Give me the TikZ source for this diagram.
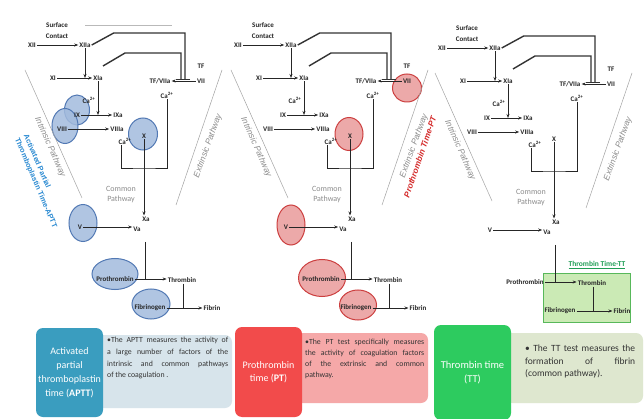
\documentclass[tikz,border=0pt]{standalone}
\usepackage{fontspec}
\setmainfont{Carlito}
\newfontfamily\labsans{Liberation Sans}
\usetikzlibrary{arrows.meta,shapes.geometric,calc}

\definecolor{bluefill}{HTML}{A3BBDD}
\definecolor{blueedge}{HTML}{5279B4}
\definecolor{redfill}{HTML}{E99A9A}
\definecolor{rededge}{HTML}{CC3F3F}
\definecolor{pathgray}{HTML}{8C8C8C}
\definecolor{apttblue}{HTML}{2A8AD2}
\definecolor{ptred}{HTML}{D42A2A}
\definecolor{ttgreen}{HTML}{1F9E55}
\definecolor{boxteal}{HTML}{3A9DBF}
\definecolor{descblue}{HTML}{D7E4EB}
\definecolor{boxred}{HTML}{F24B4B}
\definecolor{descred}{HTML}{F5A8A8}
\definecolor{boxgreen}{HTML}{2DCB5F}
\definecolor{descgreen}{HTML}{DEE7CF}
\definecolor{ttfill}{HTML}{CBEAB5}
\definecolor{ttedge}{HTML}{58B85A}

\tikzset{
  lbl/.style={font=\bfseries\fontsize{7}{8}\selectfont, inner sep=1pt, text=black!85},
  arr/.style={-{Stealth[length=4pt,width=3pt]}, line width=0.9pt, black!85},
  plainline/.style={line width=0.9pt, black!85},
  dblline/.style={line width=1.4pt, black!80, -{Bar[width=10pt,line width=1.4pt]}},
  diag/.style={draw=pathgray!80, line width=0.5pt},
  pathtext/.style={text=pathgray, font=\labsans\itshape\fontsize{8.5}{9}\selectfont, inner sep=0pt},
  cptext/.style={text=pathgray, font=\fontsize{8}{10}\selectfont, align=center, inner sep=0pt},
  bluecirc/.style={ellipse, draw=blueedge, fill=bluefill, fill opacity=0.85, line width=1pt, inner sep=0pt},
  redcirc/.style={ellipse, draw=rededge, fill=redfill, fill opacity=0.85, line width=1pt, inner sep=0pt},
  titlebox/.style={rounded corners=7pt, text=white, align=center, inner sep=0pt},
  descbox/.style={rounded corners=7pt, inner sep=0pt},
  desctext/.style={anchor=north west, align=justify, inner sep=0pt, text=black!80},
}

\newcommand\coagpanel[1]{%
  \draw[diag] (25,70) -- (82,198);
  \draw[diag] (222,70) -- (176,205);
  \node[pathtext, rotate=-66] (#1intr) at (50,147) {Intrinsic Pathway};
  \node[pathtext, rotate=70] (#1extr) at (208,146) {Extrinsic Pathway};
  % top
  \node[lbl] (#1xii) at (32,45) {XII};
  \node[lbl, align=center, font=\bfseries\fontsize{7}{11}\selectfont] (#1sc) at (57,31) {Surface\\Contact};
  \node[lbl] (#1xiia) at (85,45) {XIIa};
  \draw[arr] (#1xii) -- (#1xiia);
  \node[lbl] (#1xi) at (53,78) {XI};
  \node[lbl] (#1xia) at (98,78) {XIa};
  \draw[arr] (#1xi) -- (#1xia);
  \coordinate (#1j1) at (85,78);
  \draw[arr] (#1xiia.south) -- (#1j1);
  \node[lbl] (#1tfviia) at (160,81) {TF/VIIa};
  \node[lbl] (#1vii) at (201,81) {VII};
  \node[lbl] (#1tf) at (201,66) {TF};
  \draw[arr] (#1vii) -- (#1tfviia);
  \node[lbl] (#1ca3) at (167,95) {Ca\textsuperscript{2+}};
  \coordinate (#1t1) at (185,80);
  \coordinate (#1t2) at (181,80);
  \coordinate (#1s2) at (103,66);
  \draw[dblline] (#1xiia.east) -- ++(22,-12) -| (#1t1);
  \draw[dblline] (#1s2) -- ++(22,-13) -| (#1t2);
  % intrinsic
  \node[lbl] (#1ca1) at (89,100) {Ca\textsuperscript{2+}};
  \coordinate (#1j2) at (98,115);
  \draw[arr] (#1xia.south) -- (#1j2);
  \node[lbl] (#1ix) at (77,115) {IX};
  \node[lbl] (#1ixa) at (118,115) {IXa};
  \draw[arr] (#1ix) -- (#1ixa);
  \node[lbl] (#1viii) at (62,129) {VIII};
  \node[lbl] (#1viiia) at (117,129) {VIIIa};
  \draw[arr] (#1viii) -- (#1viiia);
  \node[lbl] (#1ca2) at (125,141) {Ca\textsuperscript{2+}};
  \node[lbl] (#1x) at (144,136) {X};
  \coordinate (#1box) at (144,168);
  \draw[plainline] ([xshift=-4pt]#1ca2.south) |- (#1box) -| (#1ca3.south);
  \node[lbl] (#1xa) at (146,219) {Xa};
  \draw[arr] (#1x.south) -- (#1x.south |- #1xa.north);
  % common
  \node[cptext] (#1cp) at (121,195) {Common\\Pathway};
  \node[lbl] (#1v) at (80,227) {V};
  \node[lbl] (#1va) at (137,229) {Va};
  \draw[arr] (#1v.east) -- (#1v.east -| #1va.west);
  \coordinate (#1c1) at (145,242);
  \coordinate (#1j3) at (145,279);
  \draw[plainline] (#1c1) -- (#1j3);
  \node[lbl] (#1pro) at (115,279) {Prothrombin};
  \node[lbl] (#1thr) at (182,280) {Thrombin};
  \draw[arr] (#1pro.east) -- (#1pro.east -| #1thr.west);
  \coordinate (#1j4) at (183,308);
  \draw[plainline] (#1thr.south -| #1j4) -- (#1j4);
  \node[lbl] (#1fib) at (150,308) {Fibrinogen};
  \node[lbl] (#1fin) at (212,308) {Fibrin};
  \draw[arr] (#1fib) -- (#1fin);
}

\begin{document}
\begin{tikzpicture}[x=1pt,y=-1pt]
\useasboundingbox (0,0) rectangle (644,419);
\fill[white] (0,0) rectangle (644,419);

% ---------- panel 1 (APTT) ----------
\draw[gray!55, line width=0.8pt] (85,25) -- (172,25);
\node[bluecirc, minimum width=25pt, minimum height=30pt] (aix) at (77,110) {};
\node[bluecirc, minimum width=26pt, minimum height=35pt] (aviii) at (65,126) {};
\node[bluecirc, minimum width=29pt, minimum height=32pt] (ax) at (143,134) {};
\node[bluecirc, minimum width=28pt, minimum height=37pt] (av) at (83,223) {};
\node[bluecirc, minimum width=46pt, minimum height=31pt] (apro) at (115,274) {};
\node[bluecirc, minimum width=38pt, minimum height=30pt] (afib) at (151,304) {};
\begin{scope}
  \coagpanel{a}
\end{scope}
\node[font=\labsans\bfseries\fontsize{7.4}{9.5}\selectfont, text=apttblue, rotate=-67, align=left, inner sep=0pt] (apttlbl) at (40,181) {Activated Partial\\Thromboplastin Time-APTT};

% ---------- panel 2 (PT) ----------
\node[redcirc, minimum width=29pt, minimum height=28pt] (bvii) at (407,88) {};
\node[redcirc, minimum width=28pt, minimum height=33pt] (bx) at (349,134) {};
\node[redcirc, minimum width=28pt, minimum height=40pt] (bv) at (291,225) {};
\node[redcirc, minimum width=47pt, minimum height=37pt] (bpro) at (322,278) {};
\node[redcirc, minimum width=37pt, minimum height=30pt] (bfib) at (358,305) {};
\begin{scope}[xshift=206pt]
  \coagpanel{b}
\end{scope}
\node[font=\labsans\bfseries\itshape\fontsize{8.3}{9.5}\selectfont, text=ptred, rotate=71, inner sep=0pt] (ptlbl) at (420,157) {Prothrombin Time-PT};

% ---------- panel 3 (TT) ----------
\node[draw=ttedge, fill=ttfill, line width=1pt, minimum width=87pt, minimum height=49pt, inner sep=0pt] (ttbox) at (586.5,297.5) {};
\node[font=\bfseries\fontsize{7.5}{9}\selectfont, text=ttgreen, inner sep=1pt] (ttlbl) at (597,265) {\underline{Thrombin Time-TT}};
\begin{scope}[xshift=410pt, yshift=-3pt]
  \coagpanel{c}
\end{scope}

% ---------- bottom boxes ----------
\node[descbox, fill=descblue, minimum width=137pt, minimum height=73pt] (d1) at (163.5,371.5) {};
\node[titlebox, fill=boxteal, minimum width=67pt, minimum height=89pt, font=\fontsize{10}{14}\selectfont] (t1) at (69.5,372.5) {Activated\\partial\\thromboplastin\\time (\textbf{APTT})};
\node[desctext, text width=121pt, font=\fontsize{7.8}{11.7}\selectfont] (d1t) at (107,337) {\textbullet The APTT measures the activity of\linebreak a large number of factors of the\linebreak intrinsic and common pathways\linebreak of the coagulation .};

\node[descbox, fill=descred, minimum width=133pt, minimum height=70pt] (d2) at (361.5,368) {};
\node[titlebox, fill=boxred, minimum width=67pt, minimum height=90pt, font=\fontsize{10}{13}\selectfont] (t2) at (268.5,372) {Prothrombin\\time (\textbf{PT})};
\node[desctext, text width=119pt, font=\fontsize{7.8}{11}\selectfont] (d2t) at (305,339) {\textbullet The PT test specifically measures\linebreak the activity of coagulation factors\linebreak of the extrinsic and common\linebreak pathway.};

\node[descbox, fill=descgreen, minimum width=138pt, minimum height=70pt] (d3) at (574,368) {};
\node[titlebox, fill=boxgreen, minimum width=77pt, minimum height=95pt, font=\fontsize{10.5}{14}\selectfont] (t3) at (472.5,372.5) {Thrombin time\\(TT)};
\node[desctext, text width=110pt, font=\fontsize{9.5}{12.5}\selectfont] (d3t) at (525,345) {\textbullet{} The TT test measures the\linebreak formation of fibrin\linebreak (common pathway).};
\end{tikzpicture}
\end{document}
